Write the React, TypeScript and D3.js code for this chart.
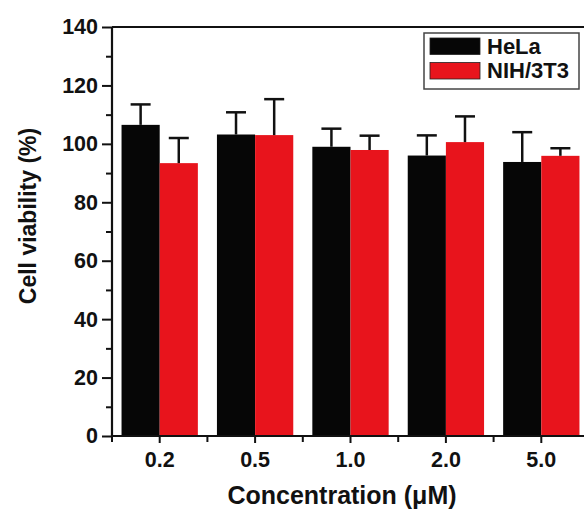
import React, { useEffect, useRef } from 'react';
import * as d3 from 'd3';

const concentrations = ['0.2', '0.5', '1.0', '2.0', '5.0'];
const seriesNames = ['HeLa', 'NIH/3T3'];
const seriesColors = ['#060606', '#e8141c'];
const helaValues = [106.5, 103.2, 99.0, 96.0, 93.8];
const helaErrors = [7.0, 7.6, 6.2, 6.9, 10.2];
const nihValues = [93.4, 103.0, 97.9, 100.6, 95.9];
const nihErrors = [8.6, 12.3, 4.9, 8.8, 2.6];
const yTicks = [0, 20, 40, 60, 80, 100, 120, 140];

const FONT = '"Liberation Sans", Arial, Helvetica, sans-serif';

const App = () => {
  const svgRef = useRef<SVGSVGElement>(null);

  useEffect(() => {
    const svg = d3.select(svgRef.current);
    svg.selectAll('*').remove();

    const width = 584;
    const height = 510;
    const margin = { top: 27, right: -5, bottom: 74, left: 112 };

    const x = d3.scaleBand()
      .domain(concentrations)
      .range([margin.left, width - margin.right])
      .paddingInner(0.2)
      .paddingOuter(0.1);

    const sub = d3.scaleBand()
      .domain(seriesNames)
      .range([0, x.bandwidth()]);

    const y = d3.scaleLinear()
      .domain([0, 140])
      .range([height - margin.bottom, margin.top]);

    const rows = seriesNames.flatMap((s, si) =>
      concentrations.map((c, i) => ({
        c,
        s,
        color: seriesColors[si],
        value: si === 0 ? helaValues[i] : nihValues[i],
        err: si === 0 ? helaErrors[i] : nihErrors[i],
      }))
    );

    // bars
    svg.append('g')
      .selectAll('rect')
      .data(rows)
      .join('rect')
      .attr('x', d => x(d.c)! + sub(d.s)!)
      .attr('y', d => y(d.value))
      .attr('width', sub.bandwidth())
      .attr('height', d => y(0) - y(d.value))
      .attr('fill', d => d.color);

    // error bars (upper only)
    const eb = svg.append('g').attr('stroke', '#111').attr('stroke-width', 2.5);
    eb.selectAll('line.v')
      .data(rows)
      .join('line')
      .attr('class', 'v')
      .attr('x1', d => x(d.c)! + sub(d.s)! + sub.bandwidth() / 2)
      .attr('x2', d => x(d.c)! + sub(d.s)! + sub.bandwidth() / 2)
      .attr('y1', d => y(d.value))
      .attr('y2', d => y(d.value + d.err));
    eb.selectAll('line.cap')
      .data(rows)
      .join('line')
      .attr('class', 'cap')
      .attr('x1', d => x(d.c)! + sub(d.s)! + sub.bandwidth() / 2 - 10)
      .attr('x2', d => x(d.c)! + sub(d.s)! + sub.bandwidth() / 2 + 10)
      .attr('y1', d => y(d.value + d.err))
      .attr('y2', d => y(d.value + d.err));

    // frame: left, bottom, top
    const [x0, x1] = x.range();
    const frame = svg.append('g').attr('stroke', '#111').attr('stroke-width', 2.2);
    frame.append('line').attr('x1', x0).attr('x2', x0).attr('y1', y(140)).attr('y2', y(0));
    frame.append('line').attr('x1', x0).attr('x2', x1).attr('y1', y(0)).attr('y2', y(0));
    frame.append('line').attr('x1', x0).attr('x2', x1).attr('y1', y(140)).attr('y2', y(140));

    // y axis
    const yAxis = svg.append('g')
      .attr('transform', `translate(${x0},0)`)
      .call(d3.axisLeft(y).tickValues(yTicks).tickSize(10).tickPadding(4).tickFormat(d3.format('d')))
      .call(g => g.select('.domain').remove());
    yAxis.selectAll('line').attr('stroke', '#111').attr('stroke-width', 2);
    yAxis.selectAll('text')
      .attr('font-family', FONT)
      .attr('font-size', 21.5)
      .attr('font-weight', 'bold')
      .attr('fill', '#111');

    svg.append('g')
      .attr('transform', `translate(${x0},0)`)
      .call(d3.axisLeft(y).tickValues(d3.range(10, 140, 20)).tickSize(6).tickFormat(() => ''))
      .call(g => g.select('.domain').remove())
      .selectAll('line').attr('stroke', '#111').attr('stroke-width', 2);

    // x axis
    const xAxis = svg.append('g')
      .attr('transform', `translate(0,${y(0)})`)
      .call(d3.axisBottom(x).tickSize(7).tickPadding(9))
      .call(g => g.select('.domain').remove());
    xAxis.selectAll('line').attr('stroke', '#111').attr('stroke-width', 2);
    xAxis.selectAll('text')
      .attr('font-family', FONT)
      .attr('font-size', 21.5)
      .attr('font-weight', 'bold')
      .attr('fill', '#111');

    const step = x.step();
    const minorX = d3.range(0, concentrations.length + 1).map(i => x0 + i * step);
    svg.append('g')
      .selectAll('line')
      .data(minorX)
      .join('line')
      .attr('x1', d => d)
      .attr('x2', d => d)
      .attr('y1', y(0))
      .attr('y2', y(0) + 6)
      .attr('stroke', '#111')
      .attr('stroke-width', 2);

    // axis titles
    svg.append('text')
      .attr('x', 342)
      .attr('y', 504)
      .attr('text-anchor', 'middle')
      .attr('font-family', FONT)
      .attr('font-size', 25)
      .attr('font-weight', 'bold')
      .attr('fill', '#111')
      .text('Concentration (μM)');

    svg.append('text')
      .attr('transform', `translate(36,216) rotate(-90)`)
      .attr('text-anchor', 'middle')
      .attr('font-family', FONT)
      .attr('font-size', 23)
      .attr('font-weight', 'bold')
      .attr('fill', '#111')
      .text('Cell viability (%)');

    // legend
    const legend = svg.append('g').attr('transform', 'translate(424,33)');
    legend.append('rect')
      .attr('width', 155)
      .attr('height', 56)
      .attr('fill', '#fff')
      .attr('stroke', '#444')
      .attr('stroke-width', 1.5);
    const item = legend.selectAll('g.item')
      .data(seriesNames)
      .join('g')
      .attr('class', 'item')
      .attr('transform', (_, i) => `translate(6,${5 + i * 24.5})`);
    item.append('rect')
      .attr('width', 50)
      .attr('height', 16.5)
      .attr('fill', (_, i) => seriesColors[i])
      .attr('stroke', '#222')
      .attr('stroke-width', 0.8);
    item.append('text')
      .attr('x', 57)
      .attr('y', 15.5)
      .attr('font-family', FONT)
      .attr('font-size', 22)
      .attr('font-weight', 'bold')
      .attr('fill', '#111')
      .text(d => d);
  }, []);

  return (
    <svg
      ref={svgRef}
      width={584}
      height={510}
      style={{ position: 'absolute', left: 0, top: 0, background: '#fff' }}
    />
  );
};

export default App;
